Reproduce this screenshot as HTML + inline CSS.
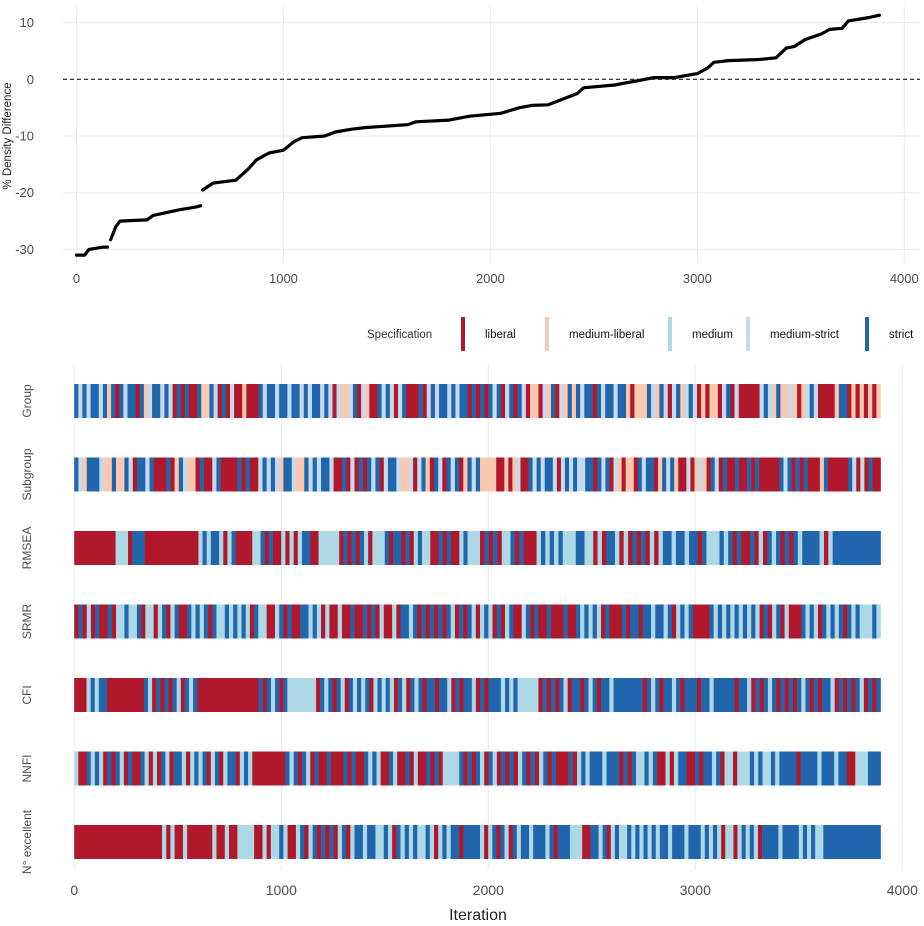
<!DOCTYPE html>
<html><head><meta charset="utf-8">
<style>
html,body{margin:0;padding:0;background:#fff;}
svg{display:block;font-family:"Liberation Sans Narrow","Liberation Sans",sans-serif;}
</style></head>
<body>
<svg id="chart" width="924" height="926" viewBox="0 0 924 926" xmlns="http://www.w3.org/2000/svg">
<g id="topPanel"></g>
<g id="legendPanel"></g>
<g id="bottomPanel"></g>
</svg>
<script>
// ---- top panel data ----
const lineIters = [0,40,60,130,150,null,165,190,210,340,370,500,580,600,null,610,660,770,830,870,930,1000,1050,1090,1200,1250,1330,1400,1600,1640,1800,1900,2050,2140,2200,2280,2350,2420,2450,2600,2720,2790,2890,3000,3050,3080,3150,3300,3380,3430,3470,3520,3600,3640,3700,3730,3830,3880];
const lineValues = [-31,-31,-30,-29.6,-29.6,null,-28.3,-26,-25,-24.8,-24,-23,-22.5,-22.3,null,-19.5,-18.3,-17.8,-15.8,-14.2,-13,-12.5,-11,-10.3,-10,-9.3,-8.8,-8.5,-8,-7.5,-7.2,-6.5,-6,-5,-4.6,-4.5,-3.5,-2.5,-1.5,-1,-0.2,0.3,0.3,1,2,3,3.3,3.5,3.8,5.5,5.8,7,8,8.8,9,10.3,10.9,11.3];
const topXTicks = [0,1000,2000,3000,4000];
const topYTicks = [10,0,-10,-20,-30];
// ---- bottom panel data ----
const rowNames = ["Group","Subgroup","RMSEA","SRMR","CFI","NNFI","N° excellent"];
const categories = ["liberal","medium-liberal","medium","medium-strict","strict"];
const catCodes = ["L","P","M","S","T"];
const totalIter = 3895;
const splitIter = 1960;
const rowFirstHalf = [
"TSTSTTSTPTLTSTTLTPSTTSTSLTLTLLTPPTSLTLSLLPLLLTSTTSTTSTTSTSTTSTSLSPPSTLSPLLTSTSLSTLLLTLSTSTTSTSTTLTL",
"TSPTTTSPPTPPTSLTTSTLLLTLPTSPPLTLLSTLLLLTLTLLSTSTSPTTSPPTSTSTTSLLTLSLTLTSTLSTTSPPSLSTPLTSLTSTLPTST",
"LLLLLLLLLLMMMLTTTLLLLLLLLLLLLLMTMTTMLMTLLLLMMTLTLLMLMLMTTLLMMMMMLTLTLTMLMMMTLTTLTLMTMMLLTLTLLMTMMM",
"LTLMLTLLTLMMTMMTLMMLMTLMTLLTMTMTLTMMTMTMTMLTMMLLMTLTLLTTMTMLMLLMLLTLLTLTLMLLMLTTMTLTLTLTLTMLTLTML",
"LLLMTMTTLLLLLLLLLTMLTLTLTMLTMTLLLLLLLLLLLLLLLTLTMTLTMMMMMMMLTMTLTMLTMTMTLMTMTMLTMLTMTLTTLTTMLTLTTML",
"MLLTMTMLTLTMLTLLTMLMLTMLTTMLMTMTLMTLMTTLMTMLLLLLLLLTMTLTMLTLLTLLLTLTLLTMTMLLTMLLTLMLLTLTLMMMMTLTLT",
"LLLLLLLLLLLLLLLLLLLLLMLMLLMLLLLLLMLLMLLMMMMLLMLMMTMLLMTLMTLTLTLMTLMTTMTTMMTMLTMTMTMMTMLMTMTTLTTTT"
];
const rowSecondHalf = [
"TLTSTLSTLTSLPPLSPTLSPTPTSTTLTSTTSTTPLPPPTSPTSLSTPSTSLPLPPLSTLSLLLLLSTSPTPPSPLPSTSLLLLPTTLPLPLPLP",
"PPPPLLPLPSLLTSTSTTSLSTSTSSTTLTSTLSPLPPLTSTTLPTSTPLLSLPSPLTSLTLLTLLTLTLLLLLTSTLTLTLLLPTLLLLLTSLSLTLL",
"LTLTLMMTLTLLLMTMTMTMMMTTMMLMLTTMLMLTLTLMLMTTMTTMTTLTMMMTMTLTLLTLMLTMTLTLTMTTTTMLMTTTTTTTTTTT",
"MTMLTLMTLLMTLTLLTLLLTLLTMTMTMLTLLLTLTTLTTMTTMTLMTMTLLLLTMTMTMTMTMTMLTLMTLMLLLTMTMLTMTMTLTMTMMMTM",
"TLTTTMTMTMMMMMLTLTLTMLTTLTMTLTTMTTTTTTTLTMTLTTMTLTTTLTTMTTTTTLTTMLTLTMTLTLTLTMTLTLTTMLTLTLTMLTLT",
"MLTMLTLTLMTLTLMTLTLLLTLMTMTTTMTTTLTLTMMTMTLLMLMTTLLTLTTMTLMMLMMMTMTMMTMTTTTLTTTTMTTTMTTLLMMMTTT",
"MLMTLTMLTMTTMTTTMTLTTTMMMLLTTMTLMTMMTMTMTMTMTTMTTTMTTTMTMTMLMMLMTMTMLTTTTMTTTTMTMTMMTTTTTTTTTTTTTT"
];
const bottomXTicks = [0,1000,2000,3000,4000];

// ---- colours / scales ----
const catColors = {L:"#b2182b",P:"#f9c8ae",M:"#add8e6",S:"#c3dbec",T:"#2166ac"};
const NS = "http://www.w3.org/2000/svg";
function mk(tag, attrs, parent){const e=document.createElementNS(NS,tag);for(const k in attrs)e.setAttribute(k,attrs[k]);parent.appendChild(e);return e;}
const tx = it => 76.5 + it*0.20695;
const ty = v => 79.3 - v*5.67;
const bx = it => 74.3 + it*0.207;
const rowTop = i => 384 + i*73.5;
const rowH = 34;

// ---- top panel ----
const topG = document.getElementById('topPanel');
topXTicks.forEach(t=>{
  const g=mk('line',{x1:tx(t),x2:tx(t),y1:5,y2:263,stroke:'#ebebeb','stroke-width':1},topG);
  
  
  const l=mk('text',{x:tx(t),y:283,'text-anchor':'middle','font-size':13,fill:'#4d4d4d'},topG);
  l.textContent=t;
  
  
});
topYTicks.forEach(t=>{
  const g=mk('line',{x1:63,x2:920,y1:ty(t),y2:ty(t),stroke:'#ebebeb','stroke-width':1},topG);
  
  
  const l=mk('text',{x:34,y:ty(t)+4.5,'text-anchor':'end','font-size':13,fill:'#4d4d4d'},topG);
  l.textContent=t;
  
  
});
const zl=mk('line',{x1:63,x2:920,y1:ty(0),y2:ty(0),stroke:'#000','stroke-width':1,'stroke-dasharray':'4,3'},topG);


let seg=[];
function flush(){
  if(seg.length>1){
    const p=mk('polyline',{points:seg.join(' '),fill:'none',stroke:'#000','stroke-width':3.2,'stroke-linejoin':'round','stroke-linecap':'round'},topG);
    
    
  }
  seg=[];
}
for(let i=0;i<lineIters.length;i++){
  if(lineIters[i]===null||lineValues[i]===null){flush();continue;}
  seg.push(tx(lineIters[i]).toFixed(1)+','+ty(lineValues[i]).toFixed(1));
}
flush();
const yt=mk('text',{x:0,y:0,'text-anchor':'middle','font-size':11.5,fill:'#222',transform:'translate(11,136) rotate(-90)'},topG);
yt.textContent='% Density Difference';



// ---- legend ----
const legendG=document.getElementById('legendPanel');
const lt=mk('text',{x:367,y:338,'font-size':11.5,fill:'#333'},legendG);
lt.textContent='Specification';


const keyX=[461,545,668,746,865];
categories.forEach((c,i)=>{
  const k=mk('rect',{x:keyX[i],y:317,width:4,height:34,fill:catColors[catCodes[i]]},legendG);
  
  
  const t=mk('text',{x:keyX[i]+24,y:338,'font-size':11.5,fill:'#111'},legendG);
  t.textContent=c;
  
  
});

// ---- bottom panel ----
const bottomG=document.getElementById('bottomPanel');
bottomXTicks.forEach(t=>{
  const g=mk('line',{x1:bx(t),x2:bx(t),y1:364,y2:870,stroke:'#ebebeb','stroke-width':1},bottomG);
  
  
  const l=mk('text',{x:bx(t),y:895,'text-anchor':'middle','font-size':14,fill:'#4d4d4d'},bottomG);
  l.textContent=t;
  
  
});
function drawHalf(str,startIt,endIt,row,g){
  const w=(endIt-startIt)/str.length;
  let i=0;
  while(i<str.length){
    let j=i;while(j+1<str.length&&str[j+1]===str[i])j++;
    const x0=bx(startIt+i*w), x1=bx(startIt+(j+1)*w);
    const r=mk('rect',{x:x0.toFixed(2),y:rowTop(row),width:(x1-x0+0.3).toFixed(2),height:rowH,fill:catColors[str[i]]},g);
    
    
    i=j+1;
  }
}
rowNames.forEach((n,r)=>{
  const g=mk('g',{},bottomG);
  
  
  drawHalf(rowFirstHalf[r],-0.5,splitIter,r,g);
  drawHalf(rowSecondHalf[r],splitIter,totalIter,r,g);
  const cy=rowTop(r)+rowH/2;
  const l=mk('text',{x:0,y:0,'text-anchor':'middle','font-size':12,fill:'#4d4d4d',transform:'translate(31,'+cy+') rotate(-90)'},bottomG);
  l.textContent=n;
  
  
});
const xt=mk('text',{x:478,y:920,'text-anchor':'middle','font-size':16,fill:'#222'},bottomG);
xt.textContent='Iteration';


</script>
</body></html>
